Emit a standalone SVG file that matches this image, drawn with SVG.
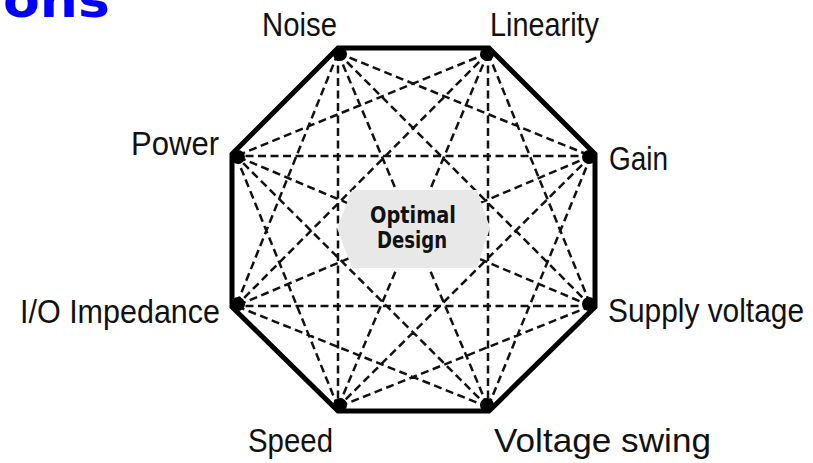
<svg xmlns="http://www.w3.org/2000/svg" width="813" height="463" viewBox="0 0 813 463">
<style>
.lbl{font-family:"Liberation Sans",Arial,sans-serif;font-size:33px;fill:#111}
.ctr{font-family:"DejaVu Sans",Verdana,sans-serif;font-size:23px;font-weight:bold;fill:#111;text-anchor:middle}
.dash{stroke:#111;stroke-width:2.5;stroke-dasharray:8 4.5;fill:none}
.blob{fill:#000}
</style>
<rect width="813" height="463" fill="#fff"/>
<text x="3" y="17" font-family="DejaVu Sans,Verdana,sans-serif" font-weight="bold" font-size="50" fill="#0000ff" textLength="107" lengthAdjust="spacingAndGlyphs">ons</text>
<g id="connectors">
<path class="dash" d="M338,53L591,156M338,53L591,306M338,53L488,407M338,53L338,407M338,53L236,306
M488,53L591,306M488,53L488,407M488,53L338,407M488,53L236,306M488,53L236,156
M591,156L488,407M591,156L338,407M591,156L236,306M591,156L236,156
M591,306L338,407M591,306L236,306M591,306L236,156
M488,407L236,306M488,407L236,156
M338,407L236,156"/>
<polygon points="338,48 489,48 595,154 595,307 489,411 338,411 232,307 232,154" fill="none" stroke="#000" stroke-width="5" stroke-linejoin="miter"/>
</g>
<g id="center">
<polygon points="352,190 477,190 490,228 477,268 352,268 337,228" fill="#e8e8e8"/>
<text class="ctr" x="413" y="223" textLength="86" lengthAdjust="spacingAndGlyphs">Optimal</text>
<text class="ctr" x="412" y="248" textLength="70" lengthAdjust="spacingAndGlyphs">Design</text>
</g>
<g id="noise"><circle class="blob" cx="340" cy="54" r="7"/><text class="lbl" x="262" y="36" textLength="75" lengthAdjust="spacingAndGlyphs">Noise</text></g>
<g id="linearity"><circle class="blob" cx="487" cy="54" r="7"/><text class="lbl" x="490" y="36" textLength="109" lengthAdjust="spacingAndGlyphs">Linearity</text></g>
<g id="gain"><circle class="blob" cx="589" cy="157" r="7"/><text class="lbl" x="609" y="170" textLength="59" lengthAdjust="spacingAndGlyphs">Gain</text></g>
<g id="supply"><circle class="blob" cx="589" cy="304" r="7"/><text class="lbl" x="608" y="322" textLength="196" lengthAdjust="spacingAndGlyphs">Supply voltage</text></g>
<g id="swing"><circle class="blob" cx="487" cy="405" r="7"/><text class="lbl" x="494" y="452" textLength="217" lengthAdjust="spacingAndGlyphs">Voltage swing</text></g>
<g id="speed"><circle class="blob" cx="340" cy="405" r="7"/><text class="lbl" x="248" y="452" textLength="85" lengthAdjust="spacingAndGlyphs">Speed</text></g>
<g id="io"><circle class="blob" cx="238" cy="304" r="7"/><text class="lbl" x="20" y="323" textLength="200" lengthAdjust="spacingAndGlyphs">I/O Impedance</text></g>
<g id="power"><circle class="blob" cx="238" cy="157" r="7"/><text class="lbl" x="131" y="155" textLength="88" lengthAdjust="spacingAndGlyphs">Power</text></g>
</svg>
